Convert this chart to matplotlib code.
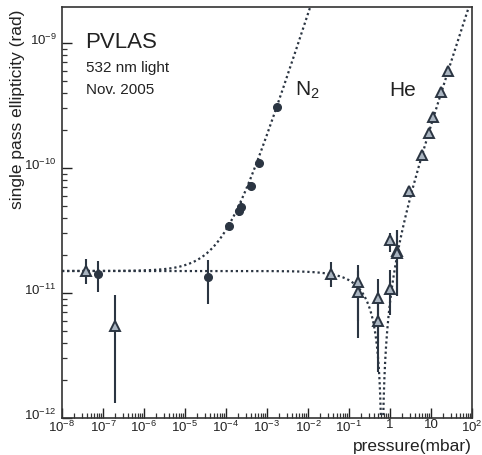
import numpy as np
import matplotlib
matplotlib.use("Agg")
import matplotlib.pyplot as plt
import matplotlib.transforms as mtransforms
from matplotlib.ticker import LogLocator, NullFormatter

plt.rcParams['font.family'] = ['Liberation Sans', 'DejaVu Sans']
plt.rcParams['mathtext.default'] = 'regular'

# ---- data ----
n2_p = [7.55e-8, 3.64e-5, 1.18e-4, 2.13e-4, 2.26e-4, 4.07e-4, 6.38e-4, 1.75e-3]
n2_psi = [1.42e-11, 1.34e-11, 3.44e-11, 4.53e-11, 4.88e-11, 7.18e-11, 1.10e-10, 3.08e-10]
n2_lo = [1.02e-11, 8.2e-12, 3.2e-11, 4.1e-11, 4.5e-11, 6.7e-11, 1.04e-10, 2.95e-10]
n2_hi = [1.80e-11, 1.84e-11, 3.7e-11, 5.0e-11, 5.3e-11, 7.7e-11, 1.16e-10, 3.2e-10]

he_p = [3.8e-8, 1.96e-7, 0.0364, 0.166, 0.166, 0.51, 0.51, 1.0, 1.02, 1.48, 1.50,
        2.9, 6.0, 8.9, 11.2, 17.5, 26.0]
he_psi = [1.50e-11, 5.4e-12, 1.42e-11, 1.22e-11, 1.02e-11, 9.1e-12, 5.97e-12, 1.08e-11,
          2.65e-11, 2.17e-11, 2.08e-11,
          6.5e-11, 1.27e-10, 1.9e-10, 2.56e-10, 4.06e-10, 5.97e-10]
he_lo = [1.18e-11, 1.32e-12, 1.12e-11, 6.0e-12, 4.4e-12, 4.0e-12, 2.33e-12, 6.7e-12,
         2.13e-11, 9.5e-12, 9.5e-12,
         6.2e-11, 1.22e-10, 1.84e-10, 2.48e-10, 3.95e-10, 5.8e-10]
he_hi = [1.87e-11, 9.6e-12, 1.77e-11, 1.67e-11, 1.5e-11, 1.29e-11, 1.0e-11, 1.53e-11,
         3.0e-11, 3.19e-11, 3.19e-11,
         6.8e-11, 1.32e-10, 1.96e-10, 2.64e-10, 4.17e-10, 6.15e-10]

# fit parameters of the model curves
psi0 = 1.5e-11      # residual ellipticity (rad)
k_n2 = 1.7e-7       # rad / mbar
k_he = 2.34e-11     # rad / mbar

xticks = [1e-8, 1e-7, 1e-6, 1e-5, 1e-4, 1e-3, 1e-2, 1e-1, 1, 10, 100]
xtick_labels = ['$10^{-8}$', '$10^{-7}$', '$10^{-6}$', '$10^{-5}$', '$10^{-4}$',
                '$10^{-3}$', '$10^{-2}$', '$10^{-1}$', '1', '10', '$10^{2}$']
yticks = [1e-12, 1e-11, 1e-10, 1e-9]
ytick_labels = ['$10^{-12}$', '$10^{-11}$', '$10^{-10}$', '$10^{-9}$']

dark = '#2b3542'

fig = plt.figure(figsize=(4.82, 4.55), dpi=100)
ax = fig.add_axes([62/482, 1-418/455, (472-62)/482, (418-7)/455])
ax.set_xscale('log')
ax.set_yscale('log')
ax.set_xlim(1e-8, 1e2)
ax.set_ylim(1e-12, 10**-8.712)

p = np.logspace(-8, 2, 4000)
ax.plot(p, psi0 + k_n2 * p, color=dark, lw=1.6, ls=(0, (1, 1.3)))
p2 = np.concatenate([np.logspace(-8, 2, 4000), np.linspace(0.55, 0.75, 2000)])
p2.sort()
he_curve = np.abs(psi0 - k_he * p2)
he_curve = np.maximum(he_curve, 1e-14)
ax.plot(p2, he_curve, color=dark, lw=1.6, ls=(0, (1, 1.3)))

n2_err = [np.array(n2_psi) - np.array(n2_lo), np.array(n2_hi) - np.array(n2_psi)]
he_err = [np.array(he_psi) - np.array(he_lo), np.array(he_hi) - np.array(he_psi)]
ax.errorbar(n2_p, n2_psi, yerr=n2_err, fmt='o', ms=5.5, color=dark, mfc=dark,
            mec=dark, elinewidth=1.5, capsize=0, zorder=3)
ax.errorbar(he_p, he_psi, yerr=he_err, fmt='^', ms=6.5, color=dark, mfc='#a9b4c0',
            mec=dark, mew=1.4, elinewidth=1.5, capsize=0, zorder=3)

ax.set_xticks(xticks)
ax.set_xticklabels(xtick_labels)
ax.set_yticks(yticks)
ax.set_yticklabels(ytick_labels)
ax.xaxis.set_minor_locator(LogLocator(base=10, subs=np.arange(2, 10), numticks=20))
ax.yaxis.set_minor_locator(LogLocator(base=10, subs=np.arange(2, 10), numticks=20))
ax.xaxis.set_minor_formatter(NullFormatter())
ax.yaxis.set_minor_formatter(NullFormatter())
ax.tick_params(which='both', direction='in', top=False, right=False, color='#333333')
ax.tick_params(which='major', length=7, width=1.0, labelsize=9.5, colors='#222222')
ax.tick_params(which='minor', length=3.5, width=0.9)
ax.tick_params(axis='x', which='major', pad=1)
ax.tick_params(axis='y', which='major', pad=4)
for s in ax.spines.values():
    s.set_linewidth(1.2)
    s.set_color('#333333')

# nudge y tick labels up a little so the digits sit on the tick
shift = mtransforms.ScaledTranslation(0, 4/100, fig.dpi_scale_trans)
for lab in ax.get_yticklabels():
    lab.set_transform(lab.get_transform() + shift)

fig.text(18/482, 1-10/455, 'single pass ellipticity (rad)', rotation=90,
         ha='center', va='top', fontsize=12.5, color='#222222')
fig.text(472/482, 1-446/455, 'pressure(mbar)', ha='right', va='center',
         fontsize=12.5, color='#222222')

fig.text(85/482, 1-43/455, 'PVLAS', ha='left', va='center', fontsize=16, color='#222222')
fig.text(86/482, 1-68/455, '532 nm light', ha='left', va='center', fontsize=11, color='#222222')
fig.text(86/482, 1-90/455, 'Nov. 2005', ha='left', va='center', fontsize=11, color='#222222')
fig.text(295/482, 1-90/455, 'N$_2$', ha='left', va='center', fontsize=15, color='#222222')
fig.text(389/482, 1-90/455, 'He', ha='left', va='center', fontsize=15, color='#222222')

fig.savefig('out.png', dpi=100)
